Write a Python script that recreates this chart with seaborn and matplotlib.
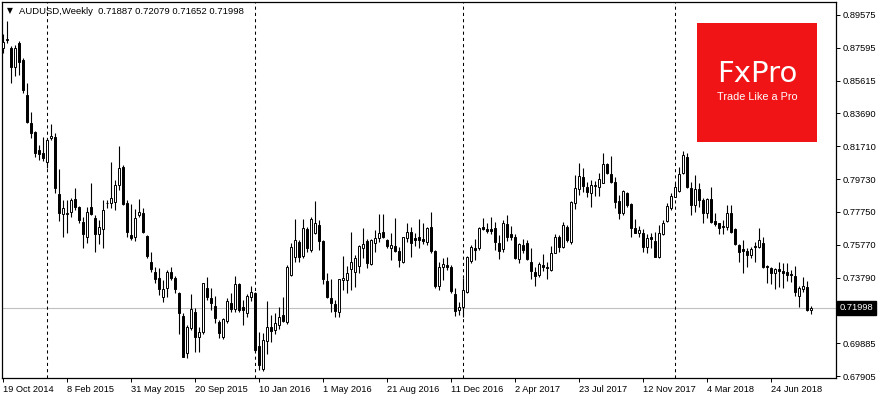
import numpy as np
import pandas as pd
import matplotlib
matplotlib.use("Agg")
import matplotlib.pyplot as plt
import matplotlib.transforms as mtransforms
from matplotlib.patches import Rectangle
import seaborn as sns

# ---------------- data (weekly AUDUSD candles) ----------------
opens = [0.8761, 0.8809, 0.8761, 0.8647, 0.8787, 0.8687, 0.8477, 0.8307, 0.8255, 0.8147,
         0.8127, 0.8077, 0.8217, 0.8223, 0.7883, 0.7763, 0.7763, 0.7777, 0.7853, 0.7807,
         0.7717, 0.7627, 0.7803, 0.7741, 0.7641, 0.7671, 0.7827, 0.7831, 0.7837, 0.7937,
         0.8043, 0.7827, 0.7637, 0.7623, 0.7757, 0.7767, 0.7631, 0.7477, 0.7417, 0.7381,
         0.7267, 0.7317, 0.7413, 0.7377, 0.7291, 0.7151, 0.6927, 0.7081, 0.7177, 0.7027,
         0.7057, 0.7317, 0.7257, 0.7211, 0.7113, 0.7027, 0.7121, 0.7227, 0.7193, 0.7343,
         0.7207, 0.7171, 0.7267, 0.7287, 0.6971, 0.6831, 0.7003, 0.7083, 0.7067, 0.7097,
         0.7157, 0.7113, 0.7397, 0.7507, 0.7597, 0.7511, 0.7671, 0.7547, 0.7651, 0.7695,
         0.7601, 0.7361, 0.7257, 0.7223, 0.7177, 0.7367, 0.7367, 0.7433, 0.7417, 0.7451,
         0.7561, 0.7601, 0.7463, 0.7591, 0.7617, 0.7657, 0.7607, 0.7557, 0.7571, 0.7543,
         0.7477, 0.7617, 0.7657, 0.7617, 0.7623, 0.7611, 0.7597, 0.7683, 0.7543, 0.7331,
         0.7447, 0.7457, 0.7443, 0.7283, 0.7187, 0.7207, 0.7297, 0.7483, 0.7557, 0.7557,
         0.7683, 0.7675, 0.7673, 0.7681, 0.7591, 0.7551, 0.7703, 0.7643, 0.7627, 0.7491,
         0.7577, 0.7587, 0.7477, 0.7413, 0.7397, 0.7457, 0.7447, 0.7427, 0.7531, 0.7623,
         0.7563, 0.7683, 0.7597, 0.7827, 0.7911, 0.7983, 0.7923, 0.7891, 0.7931, 0.7923,
         0.7951, 0.8063, 0.8003, 0.7957, 0.7841, 0.7771, 0.7891, 0.7823, 0.7677, 0.7651,
         0.7651, 0.7567, 0.7623, 0.7603, 0.7507, 0.7643, 0.7723, 0.7797, 0.7867, 0.7903,
         0.8007, 0.8103, 0.7917, 0.7817, 0.7911, 0.7847, 0.7767, 0.7851, 0.7723, 0.7707,
         0.7691, 0.7683, 0.7767, 0.7671, 0.7577, 0.7551, 0.7543, 0.7517, 0.7571, 0.7563,
         0.7587, 0.7451, 0.7441, 0.7411, 0.7431, 0.7421, 0.7417, 0.7403, 0.7391, 0.7273,
         0.7315, 0.7327, 0.71887]
highs = [0.8843, 0.8921, 0.8771, 0.8777, 0.8801, 0.8697, 0.8547, 0.8377, 0.8260, 0.8177,
         0.8227, 0.8217, 0.8301, 0.8247, 0.8031, 0.7847, 0.7847, 0.7857, 0.7917, 0.7811,
         0.7747, 0.7807, 0.7947, 0.7757, 0.7727, 0.7847, 0.7847, 0.8077, 0.7967, 0.8171,
         0.8057, 0.7847, 0.7821, 0.7791, 0.7851, 0.7797, 0.7635, 0.7537, 0.7447, 0.7437,
         0.7367, 0.7427, 0.7447, 0.7391, 0.7295, 0.7171, 0.7097, 0.7283, 0.7197, 0.7083,
         0.7351, 0.7387, 0.7317, 0.7271, 0.7127, 0.7137, 0.7257, 0.7287, 0.7393, 0.7347,
         0.7247, 0.7283, 0.7333, 0.7297, 0.7057, 0.7047, 0.7243, 0.7157, 0.7171, 0.7207,
         0.7263, 0.7457, 0.7591, 0.7731, 0.7607, 0.7731, 0.7687, 0.7743, 0.7841, 0.7727,
         0.7607, 0.7407, 0.7371, 0.7247, 0.7375, 0.7511, 0.7451, 0.7657, 0.7517, 0.7577,
         0.7677, 0.7611, 0.7611, 0.7667, 0.7763, 0.7761, 0.7611, 0.7647, 0.7741, 0.7567,
         0.7627, 0.7711, 0.7687, 0.7647, 0.7733, 0.7711, 0.7687, 0.7777, 0.7547, 0.7477,
         0.7497, 0.7507, 0.7457, 0.7317, 0.7237, 0.7377, 0.7511, 0.7577, 0.7611, 0.7687,
         0.7741, 0.7707, 0.7747, 0.7717, 0.7637, 0.7727, 0.7757, 0.7691, 0.7643, 0.7591,
         0.7611, 0.7607, 0.7557, 0.7447, 0.7477, 0.7521, 0.7477, 0.7571, 0.7641, 0.7637,
         0.7717, 0.7697, 0.7841, 0.7997, 0.8067, 0.8037, 0.7957, 0.7967, 0.7963, 0.8007,
         0.8127, 0.8067, 0.8111, 0.7983, 0.7877, 0.7905, 0.7897, 0.7831, 0.7731, 0.7691,
         0.7671, 0.7641, 0.7647, 0.7657, 0.7697, 0.7727, 0.7827, 0.7887, 0.7951, 0.8043,
         0.8141, 0.8127, 0.7957, 0.7997, 0.7947, 0.7857, 0.7857, 0.7923, 0.7767, 0.7711,
         0.7727, 0.7817, 0.7817, 0.7677, 0.7583, 0.7607, 0.7557, 0.7563, 0.7597, 0.7677,
         0.7623, 0.7457, 0.7447, 0.7441, 0.7477, 0.7471, 0.7471, 0.7427, 0.7451, 0.7331,
         0.7387, 0.7363, 0.72079]
lows = [0.8727, 0.8787, 0.8547, 0.8593, 0.8597, 0.8487, 0.8307, 0.8217, 0.8107, 0.8087,
        0.8083, 0.8037, 0.8207, 0.7887, 0.7723, 0.7627, 0.7647, 0.7747, 0.7787, 0.7707,
        0.7561, 0.7587, 0.7757, 0.7533, 0.7581, 0.7557, 0.7797, 0.7797, 0.7787, 0.7907,
        0.7817, 0.7623, 0.7607, 0.7603, 0.7747, 0.7651, 0.7497, 0.7417, 0.7347, 0.7277,
        0.7237, 0.7267, 0.7367, 0.7287, 0.7043, 0.6903, 0.6897, 0.7067, 0.6937, 0.6937,
        0.7043, 0.7247, 0.7187, 0.7107, 0.7017, 0.7013, 0.7111, 0.7177, 0.7177, 0.7177,
        0.7097, 0.7147, 0.7243, 0.6937, 0.6827, 0.6823, 0.6921, 0.6997, 0.7043, 0.7071,
        0.7117, 0.7103, 0.7391, 0.7477, 0.7477, 0.7497, 0.7537, 0.7537, 0.7643, 0.7547,
        0.7343, 0.7257, 0.7177, 0.7147, 0.7147, 0.7307, 0.7287, 0.7307, 0.7327, 0.7407,
        0.7497, 0.7437, 0.7457, 0.7537, 0.7597, 0.7617, 0.7557, 0.7487, 0.7537, 0.7443,
        0.7467, 0.7597, 0.7507, 0.7571, 0.7557, 0.7583, 0.7577, 0.7527, 0.7317, 0.7307,
        0.7367, 0.7427, 0.7287, 0.7151, 0.7157, 0.7147, 0.7287, 0.7467, 0.7487, 0.7547,
        0.7667, 0.7647, 0.7641, 0.7547, 0.7491, 0.7537, 0.7603, 0.7607, 0.7491, 0.7471,
        0.7527, 0.7487, 0.7371, 0.7331, 0.7387, 0.7423, 0.7371, 0.7423, 0.7527, 0.7537,
        0.7557, 0.7597, 0.7583, 0.7791, 0.7877, 0.7897, 0.7867, 0.7807, 0.7871, 0.7871,
        0.7947, 0.8003, 0.7951, 0.7801, 0.7733, 0.7757, 0.7803, 0.7627, 0.7647, 0.7627,
        0.7537, 0.7531, 0.7557, 0.7503, 0.7501, 0.7637, 0.7717, 0.7787, 0.7863, 0.7897,
        0.8003, 0.7917, 0.7757, 0.7777, 0.7807, 0.7711, 0.7737, 0.7707, 0.7691, 0.7643,
        0.7643, 0.7667, 0.7651, 0.7577, 0.7477, 0.7411, 0.7447, 0.7497, 0.7477, 0.7557,
        0.7437, 0.7347, 0.7343, 0.7311, 0.7327, 0.7317, 0.7363, 0.7357, 0.7271, 0.7203,
        0.7297, 0.7183, 0.71652]
closes = [0.8793, 0.8811, 0.8643, 0.8757, 0.8673, 0.8507, 0.8313, 0.8251, 0.8131, 0.8123,
          0.8097, 0.8207, 0.8231, 0.7917, 0.7767, 0.7797, 0.7767, 0.7847, 0.7807, 0.7727,
          0.7641, 0.7777, 0.7761, 0.7643, 0.7683, 0.7787, 0.7831, 0.7857, 0.7937, 0.8037,
          0.7823, 0.7653, 0.7621, 0.7737, 0.7775, 0.7657, 0.7511, 0.7433, 0.7371, 0.7311,
          0.7311, 0.7417, 0.7381, 0.7313, 0.7171, 0.6907, 0.7087, 0.7191, 0.7023, 0.7053,
          0.7347, 0.7267, 0.7227, 0.7137, 0.7047, 0.7131, 0.7241, 0.7193, 0.7343, 0.7187,
          0.7187, 0.7271, 0.7293, 0.6947, 0.6857, 0.7007, 0.7083, 0.7063, 0.7111, 0.7147,
          0.7123, 0.7447, 0.7567, 0.7607, 0.7507, 0.7681, 0.7557, 0.7731, 0.7711, 0.7603,
          0.7371, 0.7267, 0.7227, 0.7183, 0.7371, 0.7381, 0.7407, 0.7473, 0.7497, 0.7571,
          0.7583, 0.7467, 0.7607, 0.7617, 0.7651, 0.7627, 0.7571, 0.7577, 0.7543, 0.7487,
          0.7623, 0.7657, 0.7587, 0.7607, 0.7607, 0.7601, 0.7677, 0.7543, 0.7331, 0.7443,
          0.7463, 0.7443, 0.7301, 0.7181, 0.7207, 0.7307, 0.7503, 0.7563, 0.7547, 0.7681,
          0.7671, 0.7663, 0.7661, 0.7597, 0.7543, 0.7707, 0.7627, 0.7627, 0.7497, 0.7581,
          0.7547, 0.7491, 0.7421, 0.7391, 0.7463, 0.7447, 0.7437, 0.7531, 0.7623, 0.7567,
          0.7697, 0.7607, 0.7837, 0.7917, 0.7991, 0.7931, 0.7897, 0.7937, 0.7937, 0.7971,
          0.8063, 0.8007, 0.7957, 0.7837, 0.7767, 0.7901, 0.7817, 0.7677, 0.7651, 0.7667,
          0.7567, 0.7617, 0.7611, 0.7507, 0.7647, 0.7707, 0.7811, 0.7871, 0.7923, 0.8003,
          0.8117, 0.7927, 0.7817, 0.7911, 0.7847, 0.7767, 0.7851, 0.7717, 0.7703, 0.7677,
          0.7683, 0.7767, 0.7657, 0.7583, 0.7537, 0.7543, 0.7517, 0.7551, 0.7563, 0.7607,
          0.7443, 0.7443, 0.7407, 0.7431, 0.7423, 0.7411, 0.7397, 0.7399, 0.7297, 0.7317,
          0.7331, 0.7187, 0.71998]

tick_bars = [0, 16, 32, 48, 64, 80, 96, 112, 128, 144, 160, 176, 192]
tick_dates = ["19 Oct 2014", "8 Feb 2015", "31 May 2015", "20 Sep 2015", "10 Jan 2016",
              "1 May 2016", "21 Aug 2016", "11 Dec 2016", "2 Apr 2017", "23 Jul 2017",
              "12 Nov 2017", "4 Mar 2018", "24 Jun 2018"]
year_start_bars = [11, 63, 115, 168]
price_ticks = [0.89575, 0.87595, 0.85615, 0.83690, 0.81710, 0.79730, 0.77750,
               0.75770, 0.73790, 0.69885, 0.67905]
price_labels = ["0.89575", "0.87595", "0.85615", "0.83690", "0.81710", "0.79730",
                "0.77750", "0.75770", "0.73790", "0.69885", "0.67905"]
last_price = 0.71998
header = "AUDUSD,Weekly  0.71887 0.72079 0.71652 0.71998"

# ---------------- figure ----------------
sns.set_theme(style="white")
plt.rcParams["font.family"] = ["Liberation Sans", "DejaVu Sans"]

df = pd.DataFrame({"bar": np.arange(len(closes)), "open": opens, "high": highs,
                   "low": lows, "close": closes})
df["bottom"] = df[["open", "close"]].min(axis=1)
df["height"] = (df["close"] - df["open"]).abs().clip(lower=0.00012)
df["face"] = np.where(df["close"] >= df["open"], "white", "black")

W, H = 880, 400
fig = plt.figure(figsize=(W / 100, H / 100), dpi=100)
fig.patch.set_facecolor("white")
left, right, top, bottom = 2, 836, 2, 378
ax = fig.add_axes([left / W, 1 - bottom / H, (right - left) / W, (bottom - top) / H])
ax.set_facecolor("white")

# current-price line and year separators
ax.axhline(last_price, color="#c0c0c0", lw=0.8, zorder=1)
for b in year_start_bars:
    ax.axvline(b, color="black", lw=0.75, linestyle=(0, (3, 3)), zorder=1)

# wicks + bodies
ax.vlines(df["bar"], df["low"], df["high"], color="black", lw=0.8, zorder=2)
ax.bar(df["bar"], df["height"], bottom=df["bottom"], width=0.68, color=df["face"],
       edgecolor="black", linewidth=0.7, zorder=3)

ax.set_xlim(-0.25, 208.25)
ax.set_ylim(0.67785, 0.90355)

for s in ax.spines.values():
    s.set_color("black")
    s.set_linewidth(0.9)
    s.set_visible(True)

ax.yaxis.tick_right()
ax.set_yticks(price_ticks)
ax.set_yticklabels(price_labels)
ax.set_xticks(tick_bars)
ax.set_xticklabels(tick_dates, ha="left")
ax.tick_params(axis="y", which="both", right=True, left=False, direction="out",
               length=3, width=0.7, color="black", labelsize=6.7, pad=2, labelcolor="black")
ax.tick_params(axis="x", which="both", bottom=True, direction="out", length=3,
               width=0.7, color="black", labelsize=6.7, pad=2, labelcolor="black")
ax.grid(False)
ax.set_xlabel("")
ax.set_ylabel("")

# current-price badge on the right axis
trans = mtransforms.blended_transform_factory(ax.transAxes, ax.transData)
ax.text(1.0045, last_price, "0.71998", transform=trans, ha="left", va="center",
        fontsize=6.7, color="white", zorder=10, clip_on=False,
        bbox=dict(boxstyle="square,pad=0.25", facecolor="black", edgecolor="black"))

# header
fig.text(7 / W, 1 - 11 / H, "\u25BC", fontsize=5.5, color="black", va="center", ha="left",
         family=["DejaVu Sans"])
fig.text(19 / W, 1 - 11 / H, header, fontsize=6.8, color="black", va="center", ha="left")

# FxPro logo
fig.patches.append(Rectangle((697 / W, 1 - 142 / H), 120 / W, 119 / H,
                             transform=fig.transFigure, facecolor="#f01416",
                             edgecolor="none", zorder=5))
fig.text(757 / W, 1 - 74 / H, "FxPro", fontsize=21, color="white", ha="center",
         va="center", zorder=6, family=["DejaVu Sans"])
fig.text(757 / W, 1 - 97 / H, "Trade Like a Pro", fontsize=7.8, color="white",
         ha="center", va="center", zorder=6)

fig.savefig("out.png", dpi=100, facecolor="white")
